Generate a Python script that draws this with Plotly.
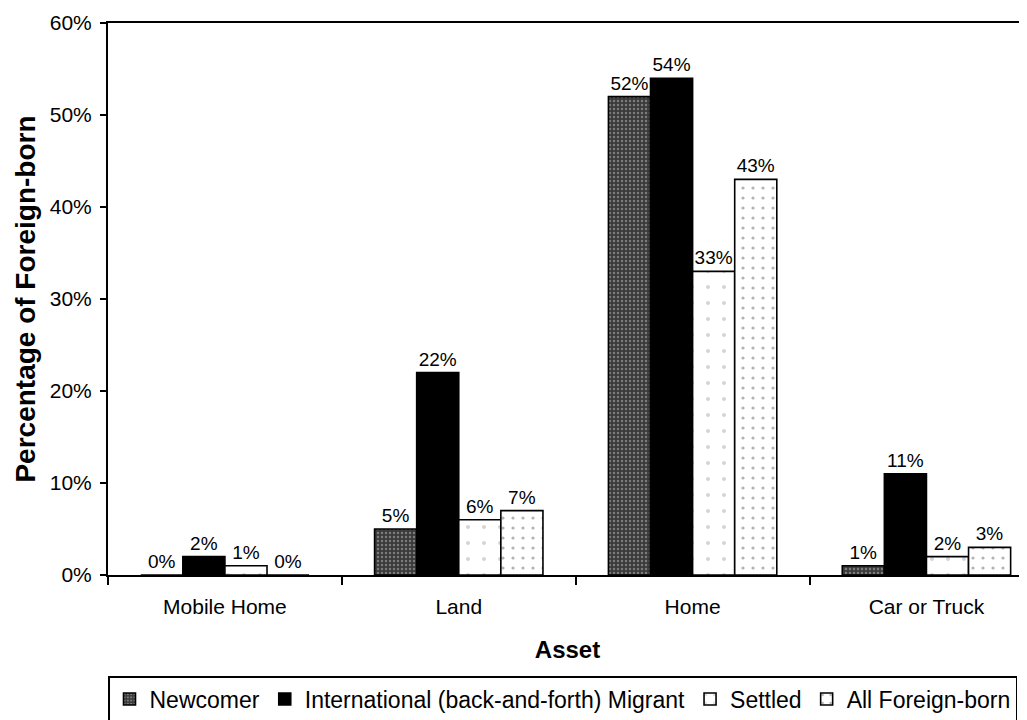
import plotly.graph_objects as go

categories = ["Mobile Home", "Land", "Home", "Car or Truck"]
series_names = ["Newcomer", "International (back-and-forth) Migrant", "Settled", "All Foreign-born"]
newcomer = [0.00, 0.05, 0.52, 0.01]
international = [0.02, 0.22, 0.54, 0.11]
settled = [0.01, 0.06, 0.33, 0.02]
all_foreign = [0.00, 0.07, 0.43, 0.03]
y_ticks = [0, 0.1, 0.2, 0.3, 0.4, 0.5, 0.6]

styles = [
    dict(color="#4a4a4a", pattern=dict(shape=".", fgcolor="#bbbbbb", bgcolor="#3a3a3a", size=4, solidity=0.3)),
    dict(color="#000000"),
    dict(color="#ffffff", pattern=dict(shape=".", fgcolor="#aaaaaa", bgcolor="#ffffff", size=16, solidity=0.05)),
    dict(color="#ffffff", pattern=dict(shape=".", fgcolor="#666666", bgcolor="#ffffff", size=10, solidity=0.08)),
]

FONT = "Liberation Sans"

fig = go.Figure()
for name, vals, st in zip(series_names, [newcomer, international, settled, all_foreign], styles):
    marker = dict(color=st["color"], line=dict(color="black", width=1.6))
    if "pattern" in st:
        marker["pattern"] = st["pattern"]
    fig.add_trace(go.Bar(
        x=categories, y=vals, name=name, marker=marker,
        texttemplate="%{y:.0%}", textposition="outside",
        textfont=dict(size=19, color="black", family=FONT),
        cliponaxis=False,
    ))

fig.update_layout(
    width=1019, height=712,
    margin=dict(l=100, r=0, t=15, b=145),
    paper_bgcolor="white", plot_bgcolor="white",
    barmode="group", bargap=0.28, bargroupgap=0,
    font=dict(family=FONT, size=20, color="black"),
    showlegend=True,
    legend=dict(
        orientation="h", x=0, xanchor="left",
        yref="container", y=1 - 668 / 712, yanchor="top",
        bordercolor="black", borderwidth=1.5, bgcolor="white",
        font=dict(size=23, family=FONT),
        itemwidth=30, tracegroupgap=0,
    ),
)
fig.update_xaxes(
    range=[-0.5, 3.43],
    showline=True, linecolor="black", linewidth=2, mirror=True,
    ticks="outside", tickson="boundaries", ticklen=8, tickcolor="black", tickwidth=1.5,
    tickfont=dict(size=21), ticklabelstandoff=12,
    title=dict(text="<b>Asset</b>", font=dict(size=24), standoff=24),
    showgrid=False,
)
fig.update_yaxes(
    range=[0, 0.6], tickvals=y_ticks, tickformat=".0%",
    showline=True, linecolor="black", linewidth=2,
    ticks="outside", ticklen=6, tickcolor="black", tickwidth=1.5,
    tickfont=dict(size=21), ticklabelstandoff=4,
    title=dict(text="<b>Percentage of Foreign-born</b>", font=dict(size=28), standoff=6),
    showgrid=False, zeroline=False,
)

fig.write_html("out.html")
